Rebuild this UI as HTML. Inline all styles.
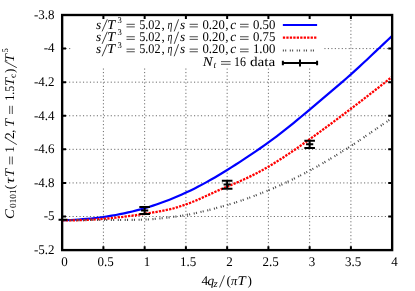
<!DOCTYPE html>
<html><head><meta charset="utf-8"><title>plot</title>
<style>html,body{margin:0;padding:0;background:#fff}body{width:415px;height:291px;overflow:hidden;font-family:"Liberation Serif",serif}svg{position:absolute;left:0;top:0}</style></head>
<body>
<svg width="415" height="291" viewBox="0 0 415 291">
<rect width="415" height="291" fill="#fff"/>
<g stroke="#6a6a6a" stroke-width="1.0" stroke-dasharray="1.15 2.32" fill="none">
<path d="M103.40,250.10V68.50"/>
<path d="M144.65,250.10V68.50"/>
<path d="M185.90,250.10V68.50"/>
<path d="M227.15,250.10V68.50"/>
<path d="M268.40,250.10V68.50"/>
<path d="M309.65,250.10V68.50"/>
<path d="M350.90,250.10V15.00"/>
<path d="M324.40,48.59H392.15"/>
<path d="M62.15,48.59H70.35"/>
<path d="M62.15,82.17H392.15"/>
<path d="M62.15,115.76H392.15"/>
<path d="M62.15,149.34H392.15"/>
<path d="M62.15,182.93H392.15"/>
<path d="M62.15,216.51H392.15"/>
</g>
<path d="M62.25,220.25 L66.37,220.14 L70.50,219.98 L74.62,219.77 L78.75,219.52 L82.87,219.22 L86.99,218.88 L91.12,218.48 L95.24,218.03 L99.36,217.53 L103.49,216.97 L107.61,216.36 L111.74,215.69 L115.86,214.97 L119.98,214.18 L124.11,213.34 L128.23,212.43 L132.36,211.46 L136.48,210.43 L140.60,209.33 L144.73,208.16 L148.85,206.93 L152.98,205.63 L157.10,204.26 L161.22,202.81 L165.35,201.29 L169.47,199.70 L173.59,198.04 L177.72,196.31 L181.84,194.50 L185.97,192.62 L190.09,190.67 L194.21,188.64 L198.34,186.54 L202.46,184.37 L206.59,182.13 L210.71,179.82 L214.83,177.45 L218.96,175.03 L223.08,172.54 L227.20,170.01 L231.33,167.42 L235.45,164.80 L239.58,162.14 L243.70,159.44 L247.82,156.70 L251.95,153.93 L256.07,151.11 L260.20,148.25 L264.32,145.34 L268.44,142.38 L272.57,139.35 L276.69,136.27 L280.82,133.12 L284.94,129.90 L289.06,126.62 L293.19,123.29 L297.31,119.91 L301.43,116.50 L305.56,113.06 L309.68,109.59 L313.81,106.11 L317.93,102.63 L322.05,99.14 L326.18,95.66 L330.30,92.17 L334.43,88.67 L338.55,85.15 L342.67,81.59 L346.80,77.99 L350.92,74.33 L355.05,70.62 L359.17,66.85 L363.29,63.03 L367.42,59.19 L371.54,55.31 L375.66,51.42 L379.79,47.53 L383.91,43.63 L388.04,39.75 L392.16,35.89" fill="none" stroke="#0000ff" stroke-width="2.2" stroke-linejoin="round"/>
<path d="M62.25,220.25 L66.37,220.30 L70.50,220.30 L74.62,220.26 L78.75,220.17 L82.87,220.05 L86.99,219.88 L91.12,219.68 L95.24,219.43 L99.36,219.15 L103.49,218.83 L107.61,218.48 L111.74,218.09 L115.86,217.66 L119.98,217.21 L124.11,216.72 L128.23,216.20 L132.36,215.65 L136.48,215.07 L140.60,214.46 L144.73,213.83 L148.85,213.17 L152.98,212.48 L157.10,211.77 L161.22,211.03 L165.35,210.23 L169.47,209.33 L173.59,208.31 L177.72,207.15 L181.84,205.85 L185.97,204.42 L190.09,202.88 L194.21,201.23 L198.34,199.49 L202.46,197.67 L206.59,195.78 L210.71,193.87 L214.83,191.99 L218.96,190.17 L223.08,188.40 L227.20,186.65 L231.33,184.91 L235.45,183.16 L239.58,181.38 L243.70,179.54 L247.82,177.64 L251.95,175.65 L256.07,173.55 L260.20,171.35 L264.32,169.05 L268.44,166.67 L272.57,164.19 L276.69,161.64 L280.82,159.02 L284.94,156.34 L289.06,153.59 L293.19,150.79 L297.31,147.95 L301.43,145.07 L305.56,142.16 L309.68,139.21 L313.81,136.25 L317.93,133.27 L322.05,130.27 L326.18,127.25 L330.30,124.21 L334.43,121.16 L338.55,118.08 L342.67,114.99 L346.80,111.89 L350.92,108.77 L355.05,105.63 L359.17,102.48 L363.29,99.32 L367.42,96.14 L371.54,92.94 L375.66,89.74 L379.79,86.52 L383.91,83.29 L388.04,80.05 L392.16,76.80" fill="none" stroke="#ff0000" stroke-width="2.3" stroke-dasharray="2.3 1.17"/>
<path d="M62.25,220.25 L66.37,220.22 L70.50,220.19 L74.62,220.16 L78.75,220.14 L82.87,220.11 L86.99,220.09 L91.12,220.06 L95.24,220.04 L99.36,220.02 L103.49,220.00 L107.61,219.98 L111.74,219.97 L115.86,219.96 L119.98,219.94 L124.11,219.92 L128.23,219.90 L132.36,219.86 L136.48,219.80 L140.60,219.71 L144.73,219.60 L148.85,219.41 L152.98,219.09 L157.10,218.69 L161.22,218.25 L165.35,217.80 L169.47,217.34 L173.59,216.83 L177.72,216.28 L181.84,215.67 L185.97,215.00 L190.09,214.26 L194.21,213.45 L198.34,212.57 L202.46,211.62 L206.59,210.62 L210.71,209.57 L214.83,208.47 L218.96,207.34 L223.08,206.18 L227.20,205.00 L231.33,203.78 L235.45,202.49 L239.58,201.14 L243.70,199.73 L247.82,198.27 L251.95,196.76 L256.07,195.20 L260.20,193.60 L264.32,191.97 L268.44,190.30 L272.57,188.58 L276.69,186.80 L280.82,184.95 L284.94,183.04 L289.06,181.08 L293.19,179.07 L297.31,177.01 L301.43,174.91 L305.56,172.77 L309.68,170.60 L313.81,168.38 L317.93,166.08 L322.05,163.73 L326.18,161.32 L330.30,158.85 L334.43,156.35 L338.55,153.80 L342.67,151.23 L346.80,148.62 L350.92,146.00 L355.05,143.32 L359.17,140.55 L363.29,137.73 L367.42,134.89 L371.54,132.07 L375.66,129.27 L379.79,126.46 L383.91,123.64 L388.04,120.82 L392.16,118.00" fill="none" stroke="#4c4c4c" stroke-width="2.1" stroke-dasharray="1.05 1.25 1.05 3.59"/>
<g stroke="#000" stroke-width="2.0" fill="none">
<path d="M62.15,219.75V219.85M62.15,219.75H67.45M62.15,219.85H67.45M58.55,219.80H65.75"/>
<path d="M144.65,206.90V213.90M139.35,206.90H149.95M139.35,213.90H149.95M141.05,210.50H148.25"/>
<path d="M227.15,180.80V188.70M221.85,180.80H232.45M221.85,188.70H232.45M223.55,184.50H230.75"/>
<path d="M309.65,140.80V147.90M304.35,140.80H314.95M304.35,147.90H314.95M306.05,144.15H313.25"/>
</g>
<g stroke="#000" stroke-width="2.35" fill="none">
<rect x="62.15" y="15.0" width="330.0" height="235.10"/>
</g>
<g stroke="#000" stroke-width="2.0" fill="none">
<path d="M103.40,250.10v-3.9M103.40,15.00v3.9"/>
<path d="M144.65,250.10v-3.9M144.65,15.00v3.9"/>
<path d="M185.90,250.10v-3.9M185.90,15.00v3.9"/>
<path d="M227.15,250.10v-3.9M227.15,15.00v3.9"/>
<path d="M268.40,250.10v-3.9M268.40,15.00v3.9"/>
<path d="M309.65,250.10v-3.9M309.65,15.00v3.9"/>
<path d="M350.90,250.10v-3.9M350.90,15.00v3.9"/>
<path d="M62.15,48.59h3.9M392.15,48.59h-3.9"/>
<path d="M62.15,82.17h3.9M392.15,82.17h-3.9"/>
<path d="M62.15,115.76h3.9M392.15,115.76h-3.9"/>
<path d="M62.15,149.34h3.9M392.15,149.34h-3.9"/>
<path d="M62.15,182.93h3.9M392.15,182.93h-3.9"/>
<path d="M62.15,216.51h3.9M392.15,216.51h-3.9"/>
</g>
<path d="M282.85,25.0H317.1" stroke="#0000ff" stroke-width="2.2"/>
<path d="M282.85,37.7H317.1" stroke="#ff0000" stroke-width="2.3" stroke-dasharray="2.3 1.17"/>
<path d="M282.85,50.45H317.1" stroke="#4c4c4c" stroke-width="2.1" stroke-dasharray="1.05 1.25 1.05 3.59"/>
<path d="M282.85,63.0H317.1M282.85,60.8v4.4M317.1,60.8v4.4M299.98,59.5v7" stroke="#000" stroke-width="2.0" fill="none"/>
<g font-family="Liberation Serif, serif" font-size="13.3" fill="#000" text-rendering="geometricPrecision" style="filter:grayscale(1)">
<text x="33.92" y="18.85" textLength="20.58" lengthAdjust="spacingAndGlyphs" font-size="13.3">-3.8</text>
<text x="43.67" y="52.44" textLength="10.83" lengthAdjust="spacingAndGlyphs" font-size="13.3">-4</text>
<text x="33.92" y="86.02" textLength="20.58" lengthAdjust="spacingAndGlyphs" font-size="13.3">-4.2</text>
<text x="33.92" y="119.61" textLength="20.58" lengthAdjust="spacingAndGlyphs" font-size="13.3">-4.4</text>
<text x="33.92" y="153.19" textLength="20.58" lengthAdjust="spacingAndGlyphs" font-size="13.3">-4.6</text>
<text x="33.92" y="186.78" textLength="20.58" lengthAdjust="spacingAndGlyphs" font-size="13.3">-4.8</text>
<text x="43.67" y="220.36" textLength="10.83" lengthAdjust="spacingAndGlyphs" font-size="13.3">-5</text>
<text x="33.92" y="253.95" textLength="20.58" lengthAdjust="spacingAndGlyphs" font-size="13.3">-5.2</text>
<text x="61.25" y="266.4" textLength="6.50" lengthAdjust="spacingAndGlyphs" font-size="13.3">0</text>
<text x="97.62" y="266.4" textLength="16.25" lengthAdjust="spacingAndGlyphs" font-size="13.3">0.5</text>
<text x="143.75" y="266.4" textLength="6.50" lengthAdjust="spacingAndGlyphs" font-size="13.3">1</text>
<text x="180.12" y="266.4" textLength="16.25" lengthAdjust="spacingAndGlyphs" font-size="13.3">1.5</text>
<text x="226.25" y="266.4" textLength="6.50" lengthAdjust="spacingAndGlyphs" font-size="13.3">2</text>
<text x="262.62" y="266.4" textLength="16.25" lengthAdjust="spacingAndGlyphs" font-size="13.3">2.5</text>
<text x="308.75" y="266.4" textLength="6.50" lengthAdjust="spacingAndGlyphs" font-size="13.3">3</text>
<text x="345.12" y="266.4" textLength="16.25" lengthAdjust="spacingAndGlyphs" font-size="13.3">3.5</text>
<text x="391.25" y="266.4" textLength="6.50" lengthAdjust="spacingAndGlyphs" font-size="13.3">4</text>
<text x="204.80" y="284.70" text-anchor="middle">4</text>
<text x="210.85" y="284.70" text-anchor="middle" font-style="italic">q</text>
<text x="213.60" y="286.70" textLength="4.20" lengthAdjust="spacingAndGlyphs" font-style="italic" font-size="10.1">z</text>
<path d="M219.50,287.50L224.50,275.40" stroke="#000" stroke-width="0.75" fill="none"/>
<text x="228.70" y="284.70" text-anchor="middle">(</text>
<text x="230.90" y="284.70" textLength="6.30" lengthAdjust="spacingAndGlyphs" font-style="italic">&#960;</text>
<text x="237.64" y="284.70" textLength="8.22" lengthAdjust="spacingAndGlyphs" font-style="italic" font-size="13.2">T</text>
<text x="249.80" y="284.70" text-anchor="middle">)</text>
<g transform="translate(14.0,0) rotate(-90)">
<text x="-218.98" y="0.00" textLength="9.86" lengthAdjust="spacingAndGlyphs" font-style="italic" font-size="13.2">C</text>
<text x="-208.00" y="2.00" textLength="18.60" lengthAdjust="spacingAndGlyphs" font-size="9.3">0101</text>
<text x="-187.00" y="0.00" text-anchor="middle">(</text>
<text x="-183.60" y="0.00" textLength="6.00" lengthAdjust="spacingAndGlyphs" font-style="italic">&#964;</text>
<text x="-176.96" y="0.00" textLength="8.22" lengthAdjust="spacingAndGlyphs" font-style="italic" font-size="13.2">T</text>
<path d="M-164.40,-4.30H-156.50M-164.40,-1.70H-156.50" stroke="#000" stroke-width="0.7" fill="none"/>
<text x="-149.40" y="0.00" text-anchor="middle">1</text>
<path d="M-144.60,2.80L-137.30,-9.30" stroke="#000" stroke-width="0.75" fill="none"/>
<text x="-135.60" y="0.00" text-anchor="middle">2</text>
<text x="-131.25" y="0.00" text-anchor="middle">,</text>
<text x="-126.91" y="0.00" textLength="8.22" lengthAdjust="spacingAndGlyphs" font-style="italic" font-size="13.2">T</text>
<path d="M-114.00,-4.30H-105.80M-114.00,-1.70H-105.80" stroke="#000" stroke-width="0.7" fill="none"/>
<text x="-100.80" y="0.00" textLength="14.90" lengthAdjust="spacingAndGlyphs">1.5</text>
<text x="-86.11" y="0.00" textLength="8.22" lengthAdjust="spacingAndGlyphs" font-style="italic" font-size="13.2">T</text>
<text x="-75.95" y="2.00" text-anchor="middle" font-size="9.3">c</text>
<text x="-70.80" y="0.00" text-anchor="middle">)</text>
<path d="M-67.70,2.80L-61.30,-9.30" stroke="#000" stroke-width="0.75" fill="none"/>
<text x="-62.16" y="0.00" textLength="8.22" lengthAdjust="spacingAndGlyphs" font-style="italic" font-size="13.2">T</text>
<text x="-50.35" y="-5.60" text-anchor="middle" font-size="8.6">5</text>
</g>
<text x="98.50" y="28.60" text-anchor="middle" font-style="italic">s</text>
<path d="M102.10,31.40L107.30,19.30" stroke="#000" stroke-width="0.75" fill="none"/>
<text x="107.09" y="28.60" textLength="8.22" lengthAdjust="spacingAndGlyphs" font-style="italic" font-size="13.2">T</text>
<text x="119.70" y="23.00" text-anchor="middle" font-size="8.6">3</text>
<path d="M126.50,24.30H134.80M126.50,26.90H134.80" stroke="#000" stroke-width="0.7" fill="none"/>
<text x="139.20" y="28.60" textLength="21.40" lengthAdjust="spacingAndGlyphs">5.02</text>
<text x="163.20" y="28.60" text-anchor="middle">,</text>
<text x="167.40" y="28.60" textLength="4.90" lengthAdjust="spacingAndGlyphs" font-style="italic">&#951;</text>
<path d="M174.20,31.40L178.60,19.30" stroke="#000" stroke-width="0.75" fill="none"/>
<text x="182.55" y="28.60" text-anchor="middle" font-style="italic">s</text>
<path d="M189.60,24.30H197.90M189.60,26.90H197.90" stroke="#000" stroke-width="0.7" fill="none"/>
<text x="202.50" y="28.60" textLength="22.30" lengthAdjust="spacingAndGlyphs">0.20</text>
<text x="226.80" y="28.60" text-anchor="middle">,</text>
<text x="233.15" y="28.60" text-anchor="middle" font-style="italic">c</text>
<path d="M240.00,24.30H248.60M240.00,26.90H248.60" stroke="#000" stroke-width="0.7" fill="none"/>
<text x="252.90" y="28.60" textLength="22.40" lengthAdjust="spacingAndGlyphs">0.50</text>
<text x="98.50" y="41.05" text-anchor="middle" font-style="italic">s</text>
<path d="M102.10,43.85L107.30,31.75" stroke="#000" stroke-width="0.75" fill="none"/>
<text x="107.09" y="41.05" textLength="8.22" lengthAdjust="spacingAndGlyphs" font-style="italic" font-size="13.2">T</text>
<text x="119.70" y="35.45" text-anchor="middle" font-size="8.6">3</text>
<path d="M126.50,36.75H134.80M126.50,39.35H134.80" stroke="#000" stroke-width="0.7" fill="none"/>
<text x="139.20" y="41.05" textLength="21.40" lengthAdjust="spacingAndGlyphs">5.02</text>
<text x="163.20" y="41.05" text-anchor="middle">,</text>
<text x="167.40" y="41.05" textLength="4.90" lengthAdjust="spacingAndGlyphs" font-style="italic">&#951;</text>
<path d="M174.20,43.85L178.60,31.75" stroke="#000" stroke-width="0.75" fill="none"/>
<text x="182.55" y="41.05" text-anchor="middle" font-style="italic">s</text>
<path d="M189.60,36.75H197.90M189.60,39.35H197.90" stroke="#000" stroke-width="0.7" fill="none"/>
<text x="202.50" y="41.05" textLength="22.30" lengthAdjust="spacingAndGlyphs">0.20</text>
<text x="226.80" y="41.05" text-anchor="middle">,</text>
<text x="233.15" y="41.05" text-anchor="middle" font-style="italic">c</text>
<path d="M240.00,36.75H248.60M240.00,39.35H248.60" stroke="#000" stroke-width="0.7" fill="none"/>
<text x="252.90" y="41.05" textLength="22.40" lengthAdjust="spacingAndGlyphs">0.75</text>
<text x="98.50" y="53.45" text-anchor="middle" font-style="italic">s</text>
<path d="M102.10,56.25L107.30,44.15" stroke="#000" stroke-width="0.75" fill="none"/>
<text x="107.09" y="53.45" textLength="8.22" lengthAdjust="spacingAndGlyphs" font-style="italic" font-size="13.2">T</text>
<text x="119.70" y="47.85" text-anchor="middle" font-size="8.6">3</text>
<path d="M126.50,49.15H134.80M126.50,51.75H134.80" stroke="#000" stroke-width="0.7" fill="none"/>
<text x="139.20" y="53.45" textLength="21.40" lengthAdjust="spacingAndGlyphs">5.02</text>
<text x="163.20" y="53.45" text-anchor="middle">,</text>
<text x="167.40" y="53.45" textLength="4.90" lengthAdjust="spacingAndGlyphs" font-style="italic">&#951;</text>
<path d="M174.20,56.25L178.60,44.15" stroke="#000" stroke-width="0.75" fill="none"/>
<text x="182.55" y="53.45" text-anchor="middle" font-style="italic">s</text>
<path d="M189.60,49.15H197.90M189.60,51.75H197.90" stroke="#000" stroke-width="0.7" fill="none"/>
<text x="202.50" y="53.45" textLength="22.30" lengthAdjust="spacingAndGlyphs">0.20</text>
<text x="226.80" y="53.45" text-anchor="middle">,</text>
<text x="233.15" y="53.45" text-anchor="middle" font-style="italic">c</text>
<path d="M240.00,49.15H248.60M240.00,51.75H248.60" stroke="#000" stroke-width="0.7" fill="none"/>
<text x="252.90" y="53.45" textLength="22.40" lengthAdjust="spacingAndGlyphs">1.00</text>
<text x="202.67" y="65.95" textLength="9.86" lengthAdjust="spacingAndGlyphs" font-style="italic" font-size="13.2">N</text>
<text x="214.90" y="67.95" text-anchor="middle" font-style="italic" font-size="9.3">t</text>
<path d="M221.00,61.65H230.60M221.00,64.25H230.60" stroke="#000" stroke-width="0.7" fill="none"/>
<text x="234.00" y="65.95" textLength="12.00" lengthAdjust="spacingAndGlyphs">16</text>
<text x="249.90" y="65.95" textLength="25.40" lengthAdjust="spacingAndGlyphs">data</text>
</g>
</svg>
</body></html>
